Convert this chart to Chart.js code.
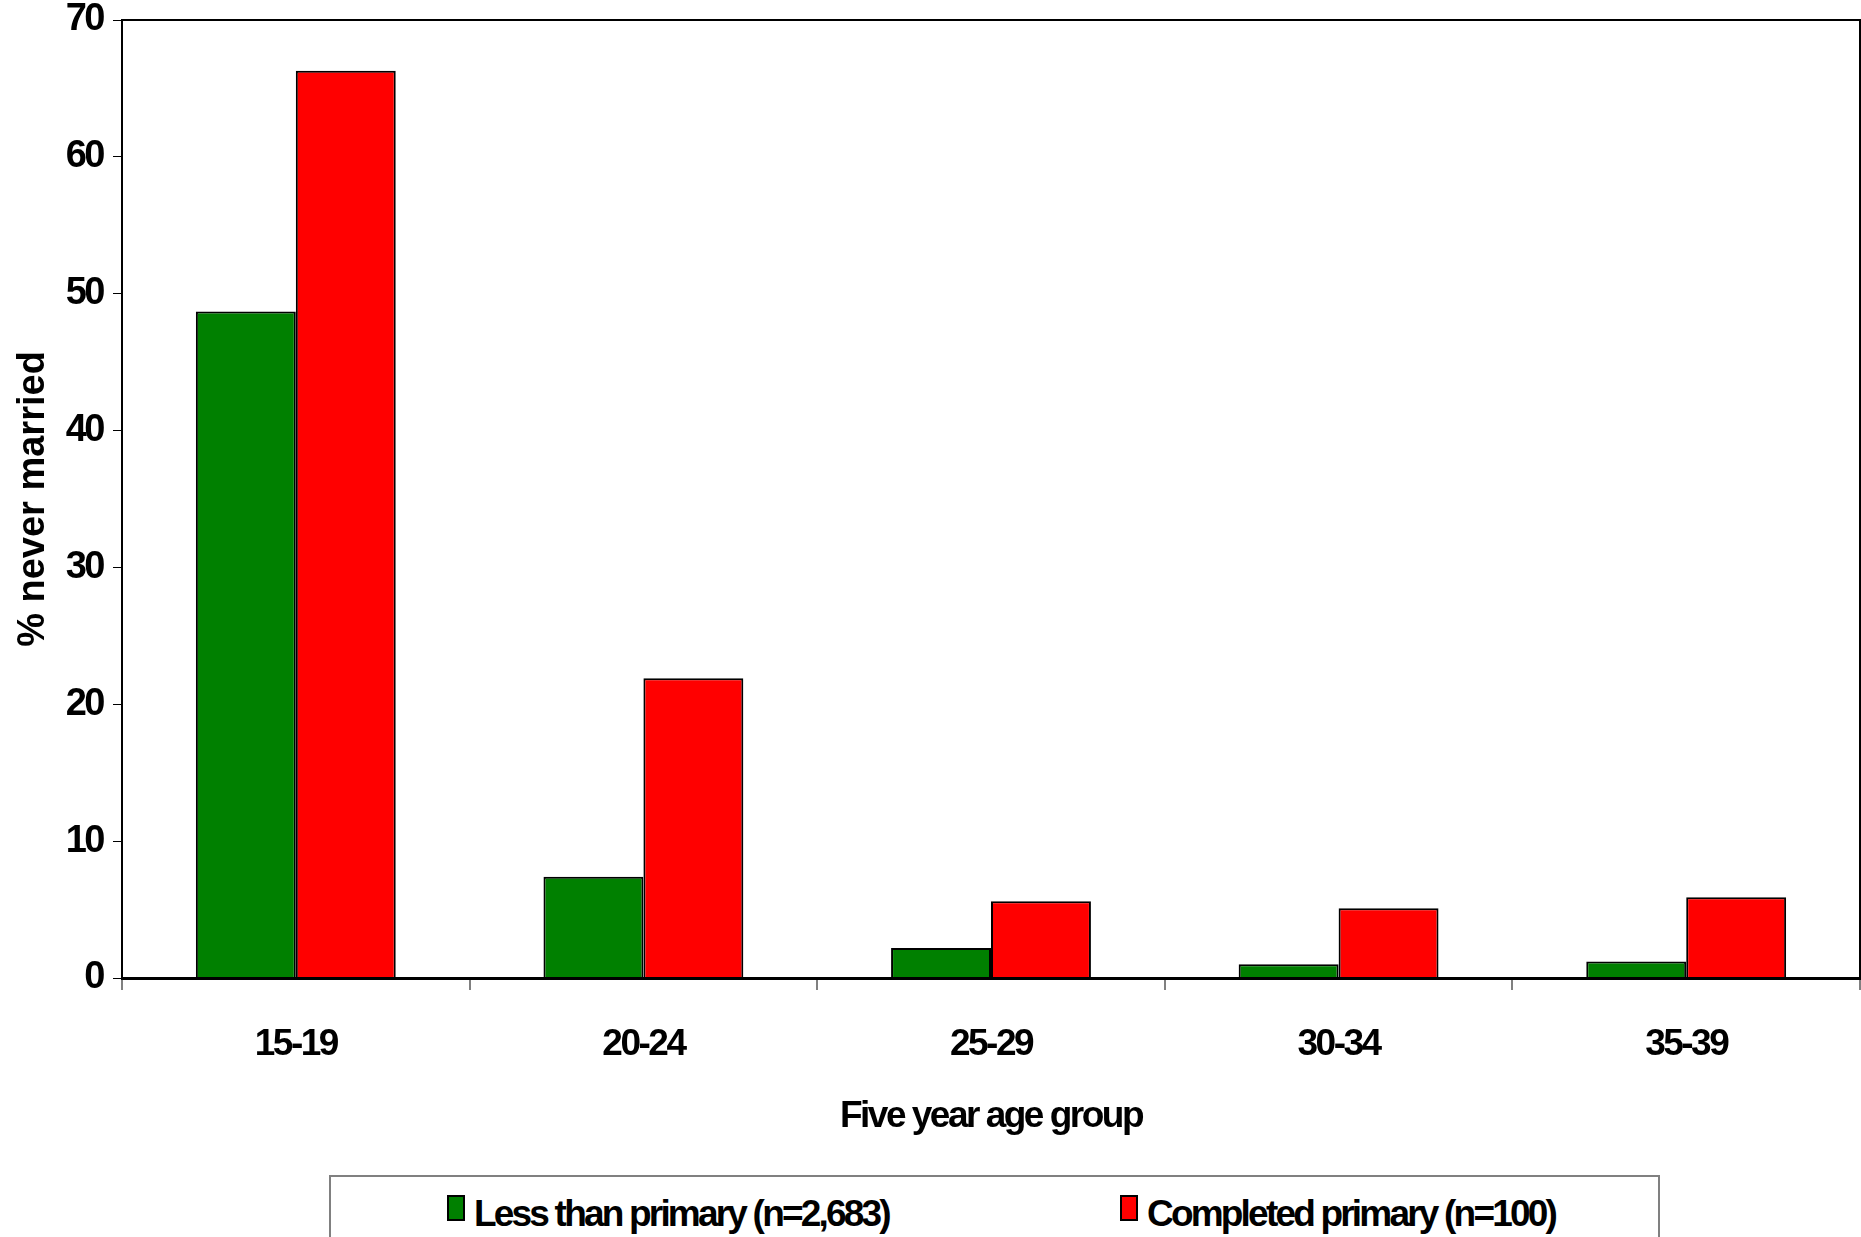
<!DOCTYPE html>
<html>
<head>
<meta charset="utf-8">
<script src="https://cdn.jsdelivr.net/npm/chart.js@4.4.1/dist/chart.umd.min.js"></script>
<style>
  body { margin: 0; background: #fff; }
  #wrap { position: relative; width: 1861px; height: 1237px; overflow: hidden; }
  #legendBox {
    position: absolute; left: 329px; top: 1175px; width: 1331px; height: 80px;
    border: 2px solid #808080; box-sizing: border-box; background: #fff;
  }
  .item { position: absolute; top: 16px; display: flex; align-items: flex-start;
    font: bold 37px 'Liberation Sans', Arial, sans-serif;
    letter-spacing: -2.8px; color: #000; white-space: nowrap; }
  .swatch { width: 14px; height: 22px; border: 2px solid #000; margin-top: 2px; margin-right: 9px; }
</style>
</head>
<body>
<div id="wrap">
  <canvas id="neverMarriedChart" width="1861" height="1237"></canvas>
  <div id="legendBox"></div>
</div>
<script>
// Percent never married by age group and education
const ageGroups = ['15-19', '20-24', '25-29', '30-34', '35-39'];
const lessThanPrimary = [48.7, 7.4, 2.2, 1.0, 1.2];
const completedPrimary = [66.3, 21.9, 5.6, 5.1, 5.9];
const seriesLabels = ['Less than primary (n=2,683)', 'Completed primary (n=100)'];
const seriesColors = ['#008000', '#ff0000'];
const yTicks = [0, 10, 20, 30, 40, 50, 60, 70];

const fontFam = "'Liberation Sans', Arial, sans-serif";
const tight = '-2.5px';

// the original text is squeezed sideways, so tighten canvas letter spacing
const squeeze = {
    id: 'squeeze',
    beforeUpdate(chart) { chart.ctx.letterSpacing = tight; },
    beforeDraw(chart) { chart.ctx.letterSpacing = tight; },
    afterUpdate(chart) {
        // the vertical y title is not squeezed
        const y = chart.scales.y;
        if (y && !y._plainTitle) {
            const orig = y.drawTitle.bind(y);
            y.drawTitle = function () {
                const c = chart.ctx;
                const old = c.letterSpacing;
                c.letterSpacing = '0px';
                orig();
                c.letterSpacing = old;
            };
            y._plainTitle = true;
        }
    }
};

// box round the plot area (top + right edges)
const frame = {
    id: 'frame',
    afterDatasetsDraw(chart) {
        const a = chart.chartArea;
        const c = chart.ctx;
        c.save();
        c.strokeStyle = '#000';
        c.lineWidth = 2;
        c.strokeRect(a.left, a.top, a.right - a.left, a.bottom - a.top);
        c.restore();
    }
};

const ctx = document.getElementById('neverMarriedChart').getContext('2d');
const chart = new Chart(ctx, {
    type: 'bar',
    data: {
        labels: ageGroups,
        datasets: [
            { label: seriesLabels[0], data: lessThanPrimary, backgroundColor: seriesColors[0],
              borderColor: '#000', borderWidth: 2 },
            { label: seriesLabels[1], data: completedPrimary, backgroundColor: seriesColors[1],
              borderColor: '#000', borderWidth: 2 }
        ]
    },
    options: {
        responsive: false,
        animation: false,
        layout: { padding: { left: 0, right: 1, top: 20, bottom: 98 } },
        datasets: { bar: { categoryPercentage: 0.575, barPercentage: 1.0 } },
        plugins: { legend: { display: false }, tooltip: { enabled: false } },
        scales: {
            x: {
                afterFit(scale) {
                    scale.height = 161;
                    scale.paddingLeft = 0;
                    scale.paddingRight = 0;
                },
                grid: { drawOnChartArea: false, color: '#808080', lineWidth: 2, tickLength: 12, offset: true },
                border: { color: '#000', width: 3 },
                ticks: { color: '#000', padding: 33, font: { family: fontFam, size: 37, weight: 'bold' } },
                title: { display: true, text: 'Five year age group', color: '#000', padding: { top: 27, bottom: 0 },
                         font: { family: fontFam, size: 37, weight: 'bold' } }
            },
            y: {
                min: 0, max: 70,
                afterBuildTicks(scale) { scale.ticks = yTicks.map(v => ({ value: v })); },
                afterFit(scale) {
                    scale.width = 122;
                    scale.paddingTop = 0;
                    scale.paddingBottom = 0;
                },
                grid: { drawOnChartArea: false, color: '#000', lineWidth: 1, tickLength: 9 },
                border: { color: '#000', width: 2 },
                ticks: { color: '#000', padding: 10, font: { family: fontFam, size: 38, weight: 'bold' } },
                title: { display: true, text: '% never married', color: '#000', padding: { top: 11, bottom: 0 },
                         font: { family: fontFam, size: 38, weight: 'bold' } }
            }
        }
    },
    plugins: [squeeze, frame]
});

// legend built from the chart's datasets
const legendBox = document.getElementById('legendBox');
const itemLeft = [116, 789];
chart.data.datasets.forEach((ds, i) => {
    const item = document.createElement('div');
    item.className = 'item';
    item.style.left = itemLeft[i] + 'px';
    item.innerHTML = '<div class="swatch" style="background:' + ds.backgroundColor + '"></div><span>' + ds.label + '</span>';
    legendBox.appendChild(item);
});
</script>
</body>
</html>
